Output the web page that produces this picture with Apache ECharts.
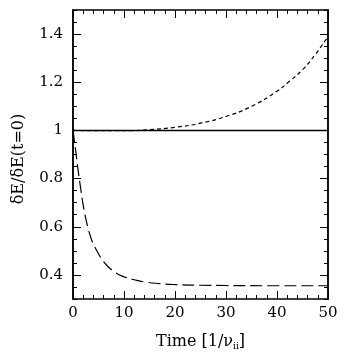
<!DOCTYPE html>
<html>
<head>
<meta charset="utf-8">
<script src="https://cdn.jsdelivr.net/npm/echarts@6/dist/echarts.min.js"></script>
<style>
  html, body { margin: 0; padding: 0; background: #fff; }
  #chart { width: 345px; height: 360px; }
</style>
</head>
<body>
<div id="chart"></div>
<script>
// 上面的短虚线（增长）
const timeUp = [0, 5, 10, 15, 20, 25, 30, 35, 40, 42.5, 45, 47.5, 50]
const valueUp = [1.0, 0.999, 0.999, 1.003, 1.013, 1.03, 1.058, 1.1, 1.163, 1.205, 1.252, 1.315, 1.39]
// 下面的长虚线（衰减）
const timeDown = [0, 0.5, 1, 1.5, 2, 2.5, 3, 3.5, 4, 5, 6, 7, 8, 9, 10, 12, 14, 17, 20, 25, 30, 40, 50]
const valueDown = [1.0, 0.92, 0.835, 0.76, 0.69, 0.635, 0.59, 0.555, 0.528, 0.488, 0.455, 0.432, 0.414, 0.401, 0.392, 0.38, 0.371, 0.364, 0.36, 0.357, 0.356, 0.355, 0.355]
// 实线 y=1
const timeFlat = [0, 50]
const valueFlat = [1, 1]
// 刻度
const yMajor = [0.4, 0.6, 0.8, 1.0, 1.2, 1.4]

const font = 'DejaVu Serif'
const pairs = (xs, ys) => xs.map((x, i) => [x, ys[i]])

const xBase = {
  type: 'value', min: 0, max: 50, interval: 10,
  axisLine: { show: true, onZero: false, lineStyle: { color: '#000', width: 1.5 } },
  splitLine: { show: false },
  axisTick: { show: true, inside: true, length: 8, lineStyle: { color: '#000', width: 1 } },
  minorTick: { show: true, splitNumber: 5, length: 4, lineStyle: { color: '#000', width: 1 } }
}
const yBase = {
  type: 'value', min: 0.3, max: 1.5,
  axisLine: { show: true, onZero: false, lineStyle: { color: '#000', width: 1.5 } },
  splitLine: { show: false }
}

const option = {
  animation: false,
  grid: { left: 73, right: 17, top: 10, bottom: 61 },
  xAxis: [
    Object.assign({}, xBase, {
      position: 'bottom',
      name: '{a|Time [1/ν}{s|ii}{a|]}',
      nameLocation: 'middle', nameGap: 34,
      nameTextStyle: { rich: { a: { fontFamily: font, fontSize: 16, color: '#000' }, s: { fontFamily: font, fontSize: 9, color: '#000', verticalAlign: 'bottom', padding: [9, 0, 0, 0] } } },
      axisLabel: { show: true, fontFamily: font, fontSize: 15, color: '#000', margin: 7 }
    }),
    Object.assign({}, xBase, { position: 'top', axisLabel: { show: false } })
  ],
  yAxis: [
    Object.assign({}, yBase, {
      position: 'left',
      name: 'δE/δE(t=0)', nameLocation: 'middle', nameGap: 46,
      nameTextStyle: { fontFamily: font, fontSize: 16, color: '#000', padding: [0, 9, 0, 0] },
      axisTick: { show: true, inside: true, length: 8, customValues: yMajor, lineStyle: { color: '#000', width: 1 } },
      axisLabel: { show: true, customValues: yMajor, fontFamily: font, fontSize: 15, color: '#000', margin: 10,
        formatter: v => String(Math.round(v * 10) / 10) }
    }),
    Object.assign({}, yBase, {
      position: 'right',
      axisTick: { show: true, inside: true, length: 8, customValues: yMajor, lineStyle: { color: '#000', width: 1 } },
      axisLabel: { show: false }
    }),
    Object.assign({}, yBase, {
      position: 'left', interval: 0.05,
      axisTick: { show: true, inside: true, length: 4, lineStyle: { color: '#000', width: 1 } },
      axisLabel: { show: false }
    }),
    Object.assign({}, yBase, {
      position: 'right', interval: 0.05,
      axisTick: { show: true, inside: true, length: 4, lineStyle: { color: '#000', width: 1 } },
      axisLabel: { show: false }
    })
  ],
  series: [
    {
      type: 'line', data: pairs(timeFlat, valueFlat), symbol: 'none',
      lineStyle: { color: '#000', width: 1.5 }
    },
    {
      type: 'line', data: pairs(timeUp, valueUp), symbol: 'none', smooth: true,
      lineStyle: { color: '#000', width: 1.2, type: [4, 3] }
    },
    {
      type: 'line', data: pairs(timeDown, valueDown), symbol: 'none', smooth: true,
      lineStyle: { color: '#000', width: 1.2, type: [12, 5] }
    }
  ]
}

const chart = echarts.init(document.getElementById('chart'))
chart.setOption(option)
</script>
</body>
</html>
